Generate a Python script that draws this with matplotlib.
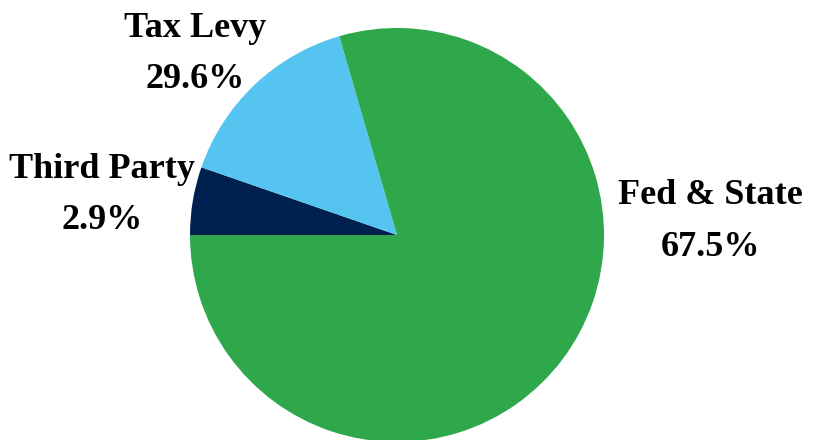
import matplotlib
matplotlib.use('Agg')
import matplotlib.pyplot as plt

# slice sizes as drawn (share of the circle) and printed labels
sources = ['Third Party', 'Tax Levy', 'Fed & State']
drawn_share = [5.3, 15.2, 79.5]
label_pct = ['2.9%', '29.6%', '67.5%']
colors = ['#00204F', '#56C4F0', '#2EA84B']

fig = plt.figure(figsize=(8.27, 4.4), dpi=100)
ax = fig.add_axes([0, 0, 1, 1])

ax.pie(drawn_share, colors=colors, startangle=180, counterclock=False,
       center=(397, 205), radius=207, frame=True,
       wedgeprops=dict(linewidth=0))
ax.set_xlim(0, 827)
ax.set_ylim(0, 440)
ax.set_aspect('equal')
ax.axis('off')

# label baselines (pixel coords, y from bottom): name line, pct line
label_x = [102, 195, 710]
name_y = [262, 403, 236]
pct_y = [211, 352, 184]
font = dict(family='Liberation Serif', weight='bold', size=26, color='black')
for name, pct, x, y1, y2 in zip(sources, label_pct, label_x, name_y, pct_y):
    ax.text(x, y1, name, ha='center', va='baseline', **font)
    ax.text(x, y2, pct, ha='center', va='baseline', **font)

fig.savefig('out.png', dpi=100)
